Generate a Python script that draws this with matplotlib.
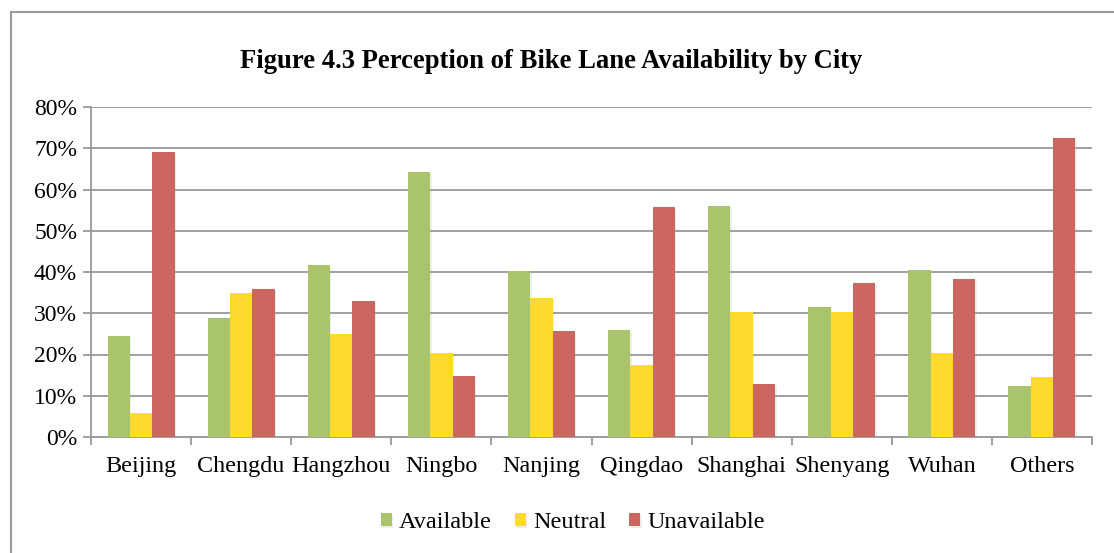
import numpy as np
import matplotlib
matplotlib.use('Agg')
from matplotlib import pyplot as plt
from matplotlib.patches import Rectangle
import matplotlib.patheffects as pe

cities = ['Beijing', 'Chengdu', 'Hangzhou', 'Ningbo', 'Nanjing',
          'Qingdao', 'Shanghai', 'Shenyang', 'Wuhan', 'Others']
available = [24.6, 28.8, 41.6, 64.2, 40.3, 26.0, 56.0, 31.6, 40.6, 12.3]
neutral = [5.8, 34.8, 24.9, 20.3, 33.6, 17.4, 30.4, 30.4, 20.4, 14.6]
unavailable = [69.0, 36.0, 32.9, 14.8, 25.6, 55.7, 12.8, 37.3, 38.2, 72.5]
series_names = ['Available', 'Neutral', 'Unavailable']
colors = ['#AAC46B', '#FED92E', '#CC6660']

plt.rcParams['font.family'] = ['Liberation Serif', 'DejaVu Serif']

W, H = 1114, 553
fig = plt.figure(figsize=(W/100, H/100), dpi=100)
ax = fig.add_axes([91/W, 1-437/H, 1001/W, 330/H])

x = np.arange(len(cities))
bw = 0.223
shadow = [pe.SimplePatchShadow(offset=(1, -1), shadow_rgbFace='#aaaaaa', alpha=0.2), pe.Normal()]
for i, (vals, name, c) in enumerate(zip([available, neutral, unavailable], series_names, colors)):
    ax.bar(x + (i-1)*bw, vals, bw, color=c, label=name, zorder=3, path_effects=shadow)

ax.set_xlim(-0.5, len(cities)-0.5)
ax.set_ylim(0, 80)
ax.set_yticks(range(0, 81, 10))
ax.set_yticklabels(['%d%%' % v for v in range(0, 81, 10)], fontsize=17)
ax.yaxis.grid(True, color='#999999', linewidth=1.3, zorder=0)
ax.set_xticks(x)
ax.set_xticklabels(cities, fontsize=17.4)
ax.set_xticks(np.arange(-0.5, len(cities)), minor=True)
ax.tick_params(axis='x', which='major', length=0, pad=14)
ax.tick_params(axis='x', which='minor', length=6, width=1.3, color='#999999')
ax.tick_params(axis='y', length=6, width=1.3, color='#999999', pad=4)
for s in ['top', 'right']:
    ax.spines[s].set_visible(False)
for s in ['left', 'bottom']:
    ax.spines[s].set_color('#999999')
    ax.spines[s].set_linewidth(1.3)

fig.text(551/W, 1-61/H, 'Figure 4.3 Perception of Bike Lane Availability by City',
         ha='center', va='center', fontsize=19.2, fontweight='bold')

fig.legend(loc='center', bbox_to_anchor=(573/W, 1-523/H), ncol=3, frameon=False,
           fontsize=17.5, handlelength=0.45, handleheight=0.45, handletextpad=0.3,
           columnspacing=0.95)

fig.add_artist(Rectangle((11/W, -0.1), 1.2, 1.1 - 12/H, transform=fig.transFigure,
                         fill=False, edgecolor='#999999', linewidth=1.5))

fig.savefig('out.png', dpi=100)
